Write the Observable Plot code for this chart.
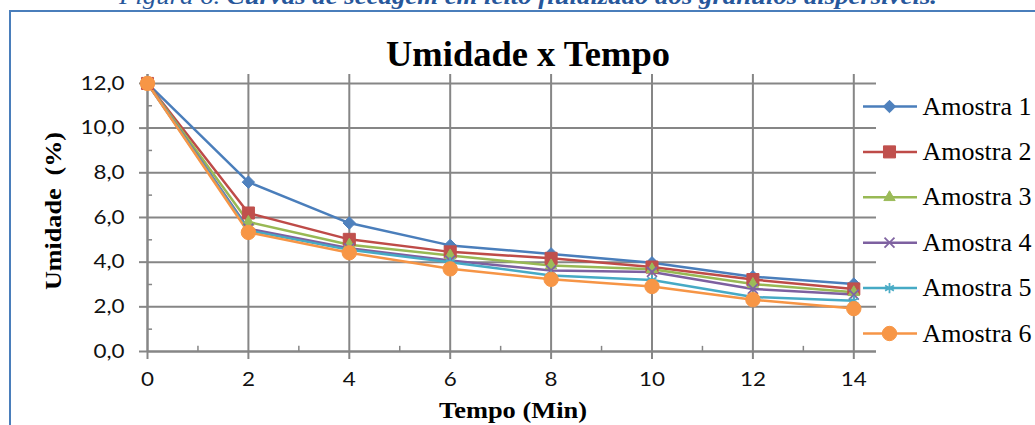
<!DOCTYPE html>
<html>
<head>
<meta charset="utf-8">
<script src="https://cdn.jsdelivr.net/npm/d3@7"></script>
<script src="https://cdn.jsdelivr.net/npm/@observablehq/plot@0.6"></script>
<style>
  html, body { margin: 0; padding: 0; background: #fff; }
  #wrap { position: relative; width: 1035px; height: 425px; overflow: hidden; background: #fff; }
  #frame { position: absolute; left: 9px; top: 10px; width: 1100px; height: 600px; border: 2.5px solid #4A7EBB; box-sizing: border-box; }
  .abs { position: absolute; left: 0; top: 0; }
</style>
</head>
<body>
<div id="wrap"><div id="frame"></div></div>
<script>
// ---- data ----
const tempo = [0, 2, 4, 6, 8, 10, 12, 14];
const series = ["Amostra 1", "Amostra 2", "Amostra 3", "Amostra 4", "Amostra 5", "Amostra 6"];
const amostra1 = [12.0, 7.58, 5.75, 4.75, 4.37, 3.97, 3.35, 3.02];
const amostra2 = [12.0, 6.2, 5.02, 4.46, 4.17, 3.78, 3.22, 2.8];
const amostra3 = [12.0, 5.8, 4.78, 4.3, 3.85, 3.68, 3.02, 2.65];
const amostra4 = [12.0, 5.5, 4.62, 4.07, 3.63, 3.56, 2.8, 2.55];
const amostra5 = [12.0, 5.42, 4.55, 4.0, 3.4, 3.2, 2.44, 2.27];
const amostra6 = [12.0, 5.33, 4.42, 3.7, 3.23, 2.91, 2.32, 1.92];
const yTicks = [0, 2, 4, 6, 8, 10, 12];
const yTickLabels = ["0,0", "2,0", "4,0", "6,0", "8,0", "10,0", "12,0"];
const xTicks = [0, 2, 4, 6, 8, 10, 12, 14];
const xTickLabels = ["0", "2", "4", "6", "8", "10", "12", "14"];
const xMinor = [1, 3, 5, 7, 9, 11, 13];
const yMinor = [1, 3, 5, 7, 9, 11];
const captionLead = "Figura 6. ";
const captionText = "Curvas de secagem em leito fluidizado dos grânulos dispersíveis.";
const titleText = "Umidade x Tempo";
const xTitle = "Tempo (Min)";
const yTitle = "Umidade  (%)";

// ---- styles ----
const values = [amostra1, amostra2, amostra3, amostra4, amostra5, amostra6];
const lineColors = ["#4A7EBB", "#BE4B48", "#98B954", "#7D60A0", "#46AAC5", "#F69546"];
const markColors = ["#4F81BD", "#C0504D", "#9BBB59", "#8064A2", "#4BACC6", "#F79646"];
const symbols = ["diamond2", "square", "triangle", "times", "asterisk", "circle"];
const radii = [5.6, 6.8, 4.2, 4.6, 4.8, 7.2];
const gridColor = "#868686";

const rows = series.flatMap((s, i) => tempo.map((t, j) => ({serie: s, tempo: t, umidade: values[i][j]})));

const lineMarks = series.map((s, i) => Plot.line(rows.filter(d => d.serie === s), {
  x: "tempo", y: "umidade", stroke: lineColors[i], strokeWidth: 2.5
}));
const dotMarks = series.map((s, i) => Plot.dot(rows.filter(d => d.serie === s), {
  x: "tempo", y: "umidade", symbol: () => symbols[i], r: radii[i],
  fill: markColors[i], stroke: markColors[i],
  strokeWidth: (symbols[i] === "times" || symbols[i] === "asterisk") ? 1.8 : 1
}));

const chart = Plot.plot({
  width: 1035, height: 425,
  marginLeft: 147, marginRight: 159, marginTop: 74, marginBottom: 74,
  style: {fontFamily: "Lato", fontSize: "19px", background: "transparent", overflow: "visible"},
  x: {domain: [0, 14.45]},
  y: {domain: [0, 12.4]},
  symbol: {type: "identity"},
  marks: [
    Plot.gridY(yTicks, {stroke: gridColor, strokeOpacity: 1, strokeWidth: 2}),
    Plot.gridX(xTicks, {stroke: gridColor, strokeOpacity: 1, strokeWidth: 2}),
    Plot.ruleX(xMinor, {y1: 0, y2: 0.23, stroke: gridColor, strokeWidth: 1.5}),
    Plot.ruleY(yMinor, {x1: 0, x2: 0.1, stroke: gridColor, strokeWidth: 1.5}),
    Plot.ruleY([0], {stroke: gridColor, strokeWidth: 2}),
    Plot.ruleX([0], {stroke: gridColor, strokeWidth: 2}),
    Plot.axisY({ticks: yTicks, tickSize: 8, tickPadding: 15, label: null,
      tickFormat: d => yTickLabels[yTicks.indexOf(d)],
      stroke: gridColor, strokeWidth: 2, fill: "#111", fontSize: 19, fontFamily: "Lato"}),
    Plot.axisX({ticks: xTicks, tickSize: 8, tickPadding: 13, label: null,
      tickFormat: d => xTickLabels[xTicks.indexOf(d)],
      stroke: gridColor, strokeWidth: 2, fill: "#111", fontSize: 19, fontFamily: "Lato"}),
    ...lineMarks,
    ...dotMarks
  ]
});
chart.classList.add("abs");
const wrap = document.getElementById("wrap");
wrap.appendChild(chart);

// ---- legend (Plot with identity scales) ----
const legendRows = series.map((s, i) => ({serie: s, i, ly: 26 + i * 45.4}));
const legend = Plot.plot({
  width: 180, height: 280, margin: 0,
  x: {type: "identity", axis: null}, y: {type: "identity", axis: null},
  style: {background: "transparent", overflow: "visible"},
  marks: [
    ...legendRows.map(d => Plot.ruleY([d], {y: "ly", x1: 8, x2: 62, stroke: lineColors[d.i], strokeWidth: 2.5})),
    ...legendRows.map(d => Plot.dot([d], {x: 34, y: "ly", symbol: () => symbols[d.i], r: radii[d.i],
      fill: markColors[d.i], stroke: markColors[d.i],
      strokeWidth: (symbols[d.i] === "times" || symbols[d.i] === "asterisk") ? 1.8 : 1})),
    Plot.text(legendRows, {x: 67, y: "ly", text: "serie", textAnchor: "start",
      fontFamily: "Liberation Serif", fontSize: 25, fill: "#000"})
  ]
});
legend.classList.add("abs");
legend.style.left = "855px";
legend.style.top = "80px";
wrap.appendChild(legend);

// ---- overlay texts ----
const ov = d3.select(wrap).append("svg").attr("class", "abs")
  .attr("width", 1035).attr("height", 425).style("overflow", "visible");
const cap = ov.append("text").attr("x", 528).attr("y", 4).attr("text-anchor", "middle")
  .attr("font-family", "Liberation Serif").attr("font-style", "italic").attr("font-size", 23)
  .attr("fill", "#27579B").style("white-space", "pre")
  .attr("textLength", 818).attr("lengthAdjust", "spacingAndGlyphs");
cap.append("tspan").text(captionLead);
cap.append("tspan").attr("font-weight", "bold").text(captionText);

ov.append("text").attr("x", 528).attr("y", 66).attr("text-anchor", "middle")
  .attr("font-family", "Liberation Serif").attr("font-weight", "bold").attr("font-size", 36)
  .attr("textLength", 284).attr("lengthAdjust", "spacingAndGlyphs").text(titleText);

ov.append("text").attr("x", 513).attr("y", 418).attr("text-anchor", "middle")
  .attr("font-family", "Liberation Serif").attr("font-weight", "bold").attr("font-size", 24)
  .attr("textLength", 148).attr("lengthAdjust", "spacingAndGlyphs").text(xTitle);

ov.append("text").attr("transform", "translate(61,211) rotate(-90)").attr("text-anchor", "middle")
  .attr("font-family", "Liberation Serif").attr("font-weight", "bold").attr("font-size", 24)
  .style("white-space", "pre")
  .attr("textLength", 158).attr("lengthAdjust", "spacingAndGlyphs").text(yTitle);

// stretch tick labels to match the reference's wide glyphs
d3.select(chart).selectAll('g[aria-label="y-axis tick label"] text, g[aria-label="x-axis tick label"] text')
  .each(function() {
    const L = this.getComputedTextLength();
    this.setAttribute("textLength", L * 1.18);
    this.setAttribute("lengthAdjust", "spacingAndGlyphs");
  });
d3.select(legend).selectAll('g[aria-label="text"] text')
  .each(function() {
    this.setAttribute("textLength", 109);
    this.setAttribute("lengthAdjust", "spacingAndGlyphs");
  });
</script>
</body>
</html>
